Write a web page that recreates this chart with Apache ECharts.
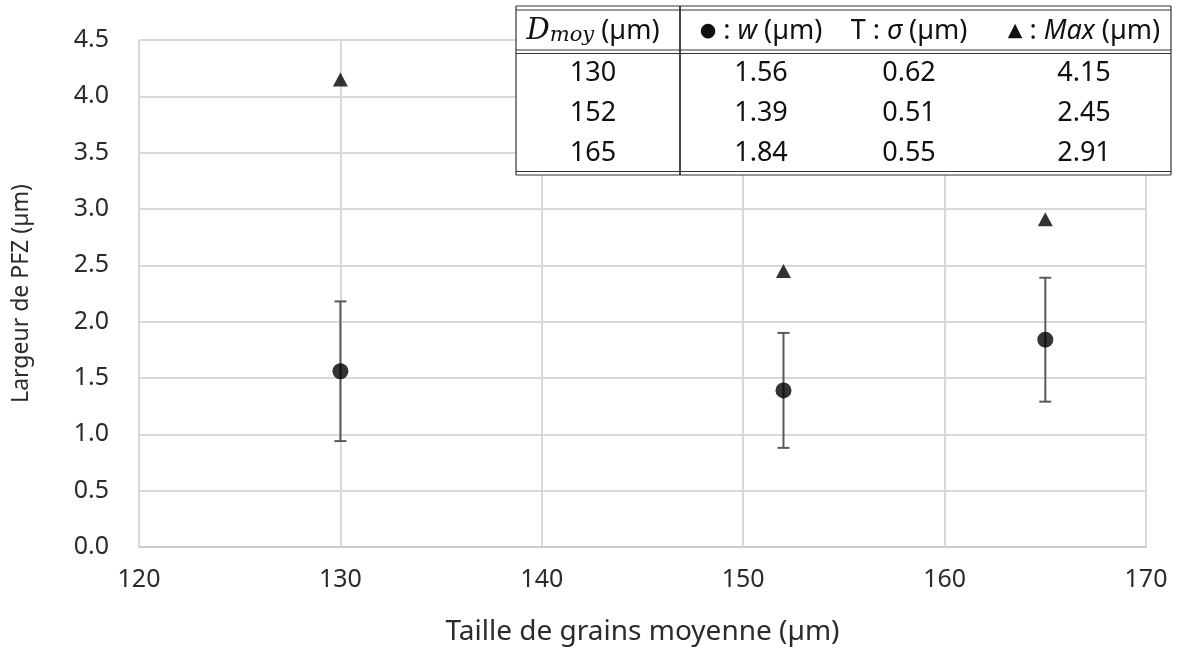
<!DOCTYPE html>
<html>
<head>
<meta charset="utf-8">
<script src="https://cdn.jsdelivr.net/npm/echarts@6/dist/echarts.min.js"></script>
<style>html,body{margin:0;padding:0;background:#fff;}#c{width:1177px;height:653px;}</style>
</head>
<body>
<div id="c"></div>
<script>
const grainSizes = [130, 152, 165];
const meanWidth = [1.56, 1.39, 1.84];
const sigma = [0.62, 0.51, 0.55];
const maxWidth = [4.15, 2.45, 2.91];
const xAxisTitle = 'Taille de grains moyenne (µm)';
const yAxisTitle = 'Largeur de PFZ (µm)';

const FONT = '"Noto Sans", "Open Sans", sans-serif';
const chart = echarts.init(document.getElementById('c'));

const meanData = grainSizes.map((x, i) => [x, meanWidth[i]]);
const maxData = grainSizes.map((x, i) => [x, maxWidth[i]]);
const errData = grainSizes.map((x, i) => [x, meanWidth[i] - sigma[i], meanWidth[i] + sigma[i]]);

// Table layout
const tL = 516, tR = 1171, tT = 6, tB = 175, tDiv = 680, hSep = 50;
const colX = [593, 761, 909, 1084];
const rowY = [73, 113, 153];
const headerY = 31;
const TFS = 27;
const tableTextStyle = { fontFamily: FONT, fontSize: TFS, fill: '#111', align: 'center', verticalAlign: 'middle' };

const graphics = [];
graphics.push({ type: 'rect', shape: { x: tL, y: tT, width: tR - tL, height: tB - tT }, style: { fill: '#fff', stroke: null }, z: 100 });
function hline(y, w) { graphics.push({ type: 'line', shape: { x1: tL, y1: y, x2: tR, y2: y }, style: { stroke: '#333', lineWidth: w || 1.2 }, z: 101 }); }
function vline(x, w) { graphics.push({ type: 'line', shape: { x1: x, y1: tT, x2: x, y2: tB }, style: { stroke: '#333', lineWidth: w || 1.2 }, z: 101 }); }
hline(tT); hline(tT + 4);
hline(hSep); hline(hSep + 3.5);
hline(tB - 3.5); hline(tB);
vline(tL); vline(tR); vline(tDiv, 1.8);

const rich = {
  n: { fontFamily: FONT, fontSize: TFS, fill: '#111' },
  i: { fontFamily: FONT, fontSize: TFS, fontStyle: 'italic', fill: '#111' },
  d: { fontFamily: '"DejaVu Serif", "Liberation Serif", serif', fontSize: 29, fontStyle: 'italic', fill: '#111' },
  s: { fontFamily: '"DejaVu Serif", "Liberation Serif", serif', fontSize: 21, fontStyle: 'italic', fill: '#111', verticalAlign: 'bottom', padding: [10, 0, 0, 0] },
  sym: { fontFamily: '"DejaVu Sans", sans-serif', fontSize: 19, fill: '#111' }
};
const headers = [
  '{d|D}{s|moy}{n| (µm)}',
  '{sym|●}{n| : }{i|w}{n| (µm)}',
  '{n|T : }{i|σ}{n| (µm)}',
  '{sym|▲}{n| : }{i|Max}{n| (µm)}'
];
headers.forEach((h, j) => {
  graphics.push({ type: 'text', x: colX[j], y: headerY, z: 102,
    style: { text: h, rich: rich, align: 'center', verticalAlign: 'middle', fontFamily: FONT, fontSize: TFS } });
});
grainSizes.forEach((g, i) => {
  const vals = [String(g), meanWidth[i].toFixed(2), sigma[i].toFixed(2), maxWidth[i].toFixed(2)];
  vals.forEach((v, j) => {
    graphics.push({ type: 'text', x: colX[j], y: rowY[i], z: 102, style: Object.assign({ text: v }, tableTextStyle) });
  });
});

chart.setOption({
  backgroundColor: '#fff',
  animation: false,
  grid: { left: 139, right: 31, top: 40, bottom: 106 },
  xAxis: {
    type: 'value', min: 120, max: 170, interval: 10,
    name: xAxisTitle, nameLocation: 'middle', nameGap: 71,
    nameTextStyle: { fontFamily: FONT, fontSize: 28, color: '#2b2b2b' },
    axisLine: { show: true, lineStyle: { color: '#c8c8c8', width: 1.5 } },
    axisTick: { show: false },
    axisLabel: { fontFamily: FONT, fontSize: 25, color: '#2b2b2b', margin: 20 },
    splitLine: { show: true, lineStyle: { color: '#d9d9d9', width: 2 } }
  },
  yAxis: {
    type: 'value', min: 0, max: 4.5, interval: 0.5,
    name: yAxisTitle, nameLocation: 'middle', nameGap: 106,
    nameTextStyle: { fontFamily: FONT, fontSize: 23, color: '#2b2b2b' },
    axisLine: { show: false },
    axisTick: { show: false },
    axisLabel: { fontFamily: FONT, fontSize: 25, color: '#2b2b2b', margin: 30, formatter: v => v.toFixed(1) },
    splitLine: { show: true, lineStyle: { color: '#d9d9d9', width: 2 } }
  },
  series: [
    {
      type: 'custom', data: errData, z: 3,
      renderItem: function (params, api) {
        const x = api.value(0);
        const lo = api.coord([x, api.value(1)]);
        const hi = api.coord([x, api.value(2)]);
        const hw = 6;
        const st = { stroke: '#595959', lineWidth: 2 };
        return { type: 'group', children: [
          { type: 'line', shape: { x1: lo[0], y1: lo[1], x2: hi[0], y2: hi[1] }, style: st },
          { type: 'line', shape: { x1: lo[0] - hw, y1: lo[1], x2: lo[0] + hw, y2: lo[1] }, style: st },
          { type: 'line', shape: { x1: hi[0] - hw, y1: hi[1], x2: hi[0] + hw, y2: hi[1] }, style: st }
        ] };
      }
    },
    { type: 'scatter', data: meanData, symbol: 'circle', symbolSize: 16, itemStyle: { color: '#000' }, z: 5 },
    { type: 'scatter', data: maxData, symbol: 'triangle', symbolSize: [15, 14], itemStyle: { color: '#000' }, z: 5 }
  ],
  graphic: graphics
});
</script>
</body>
</html>
